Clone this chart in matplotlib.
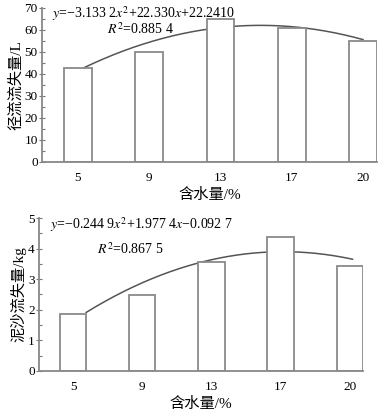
import numpy as np
import matplotlib
matplotlib.use("Agg")
import matplotlib.pyplot as plt
from matplotlib.ticker import MultipleLocator

plt.rcParams['font.family'] = ['Liberation Serif', 'Noto Sans CJK SC']
plt.rcParams['mathtext.fontset'] = 'stix'

categories = ["5", "9", "13", "17", "20"]
runoff = [42.5, 50.0, 65.0, 61.0, 55.0]
sediment = [1.85, 2.47, 3.57, 4.37, 3.43]
runoff_coef = [-3.1332, 22.330, 22.2410]
sediment_coef = [-0.2449, 1.9774, -0.0927]

fig = plt.figure(figsize=(3.82, 4.11), dpi=100)

def panel(rect, values, coef, ylim, major, minor, ylabel, eq, r2, eqpos, r2pos, xlim, bw, curve_range):
    ax = fig.add_axes(rect)
    x = np.arange(1, len(values) + 1)
    xs = np.linspace(curve_range[0], curve_range[1], 200)
    ys = np.polyval(coef, xs)
    ax.plot(xs, ys, color='#555555', lw=1.1, zorder=1)
    ax.bar(x, values, width=bw, facecolor='white', edgecolor='#8a8a8a', lw=1.3, zorder=2)
    ax.set_xlim(*xlim)
    ax.set_ylim(*ylim)
    ax.set_xticks(x)
    ax.set_xticklabels(categories, fontsize=9.5)
    ax.tick_params(axis='x', length=0, pad=7)
    ax.yaxis.set_major_locator(MultipleLocator(major))
    ax.yaxis.set_minor_locator(MultipleLocator(minor))
    ax.tick_params(axis='y', which='major', direction='inout', length=4, width=0.8, color='#777777', labelsize=9.5, pad=1)
    ax.tick_params(axis='y', which='minor', direction='in', length=2, width=0.8, color='#777777')
    for s in ['top', 'right']:
        ax.spines[s].set_visible(False)
    for s in ['left', 'bottom']:
        ax.spines[s].set_color('#888888')
        ax.spines[s].set_linewidth(1.3)
    ax.set_ylabel(ylabel, fontsize=11, labelpad=1)
    ax.set_xlabel("含水量/%", fontsize=11, labelpad=3)
    ax.text(eqpos[0], eqpos[1], eq, transform=ax.transAxes, fontsize=10, va='center', ha='left')
    ax.text(r2pos[0], r2pos[1], r2, transform=ax.transAxes, fontsize=10, va='center', ha='left')
    return ax

panel([0.110, 0.606, 0.877, 0.375], runoff, runoff_coef, (0, 70), 10, 5,
      "径流流失量/L",
      r"$y$=−3.133 2$x^2$+22.330$x$+22.2410", r"$R^2$=0.885 4",
      (0.03, 0.965), (0.195, 0.86), (0.497, 5.197), 0.39, (1.09, 5.0))

panel([0.102, 0.0975, 0.848, 0.372], sediment, sediment_coef, (0, 5), 1, 0.5,
      "泥沙流失量/kg",
      r"$y$=−0.244 9$x^2$+1.977 4$x$−0.092 7", r"$R^2$=0.867 5",
      (0.035, 0.955), (0.18, 0.80), (0.507, 5.19), 0.38, (1.19, 5.04))

fig.savefig("out.png", dpi=100)
